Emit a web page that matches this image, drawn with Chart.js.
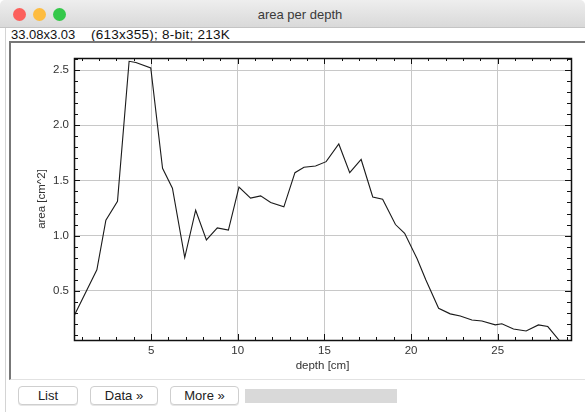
<!DOCTYPE html>
<html lang="en">
<head>
  <meta charset="UTF-8" />
  <title>area per depth</title>
  <script src="https://cdn.jsdelivr.net/npm/chart.js"></script>
  <style>
    body { margin: 0; width: 585px; height: 412px; overflow: hidden; background: #fff; font-family: "Liberation Sans", Arial, sans-serif; position: relative; }
    .titlebar { position: absolute; left: 0; top: 0; width: 585px; height: 27px; background: linear-gradient(#eeeeee, #d9d9d9); border-bottom: 1px solid #c4c4c4; border-radius: 5px 5px 0 0; }
    .dot { position: absolute; top: 8px; width: 13px; height: 13px; border-radius: 50%; }
    .wintitle { position: absolute; left: 0; width: 600px; top: 7px; text-align: center; font-size: 13px; color: #3a3a3a; }
    .info { position: absolute; top: 27px; font-size: 13px; color: #111; white-space: pre; }
    .outer { position: absolute; left: 5px; top: 28px; width: 1px; height: 384px; background: #d4d4d4; }
    .imgframe { position: absolute; left: 9px; top: 41px; width: 600px; height: 336px; border-left: 2px solid #777; border-top: 2px solid #777; border-bottom: 1px solid #e2e2e2; background: #fff; }
    #chart { position: absolute; left: 11px; top: 43px; }
    .btn { position: absolute; top: 386px; height: 17px; border: 1px solid #cfcfcf; border-radius: 4px; background: #fff; font-size: 13px; color: #222; text-align: center; line-height: 17px; box-shadow: 0 1px 0 #e6e6e6; }
    .bar { position: absolute; left: 245px; top: 389px; width: 152px; height: 14px; background: #d9d9d9; }
  </style>
</head>
<body>
<div class="titlebar">
  <div class="dot" style="left:13px; background:#fc605c;"></div>
  <div class="dot" style="left:33px; background:#fdbc40;"></div>
  <div class="dot" style="left:53px; background:#34c84a;"></div>
  <div class="wintitle">area per depth</div>
</div>
<div class="info" style="left:11px;">33.08x3.03</div>
<div class="info" style="left:91px; font-size:13.5px; letter-spacing:0.25px;">(613x355); 8-bit; 213K</div>
<div class="outer"></div>
<div class="imgframe"></div>
<canvas id="chart" width="574" height="334"></canvas>
<div class="btn" style="left:18px; width:58px;">List</div>
<div class="btn" style="left:90px; width:66px;">Data »</div>
<div class="btn" style="left:170px; width:67px;">More »</div>
<div class="bar"></div>

<script>
// depth [cm] and area [cm^2]
const depth = [0.58, 1.87, 2.39, 3.06, 3.73, 4.12, 4.98, 5.66, 6.23, 6.94, 7.57, 8.19, 8.82, 9.46,
  10.07, 10.74, 11.32, 11.9, 12.66, 13.3, 13.82, 14.49, 15.1, 15.83, 16.46, 17.12, 17.79, 18.36,
  19.1, 19.63, 20.35, 20.85, 21.59, 22.26, 22.84, 23.51, 24.09, 24.86, 25.24, 25.91, 26.64,
  27.35, 27.89, 28.6];
const area = [0.28, 0.69, 1.14, 1.31, 2.58, 2.57, 2.52, 1.61, 1.43, 0.80, 1.23, 0.96, 1.07, 1.05,
  1.44, 1.34, 1.36, 1.30, 1.26, 1.57, 1.62, 1.63, 1.67, 1.83, 1.57, 1.69, 1.35, 1.33,
  1.10, 1.02, 0.79, 0.60, 0.34, 0.29, 0.27, 0.235, 0.226, 0.19, 0.20, 0.153, 0.135,
  0.19, 0.175, 0.04];
const xTicks = [5, 10, 15, 20, 25];
const yTicks = [0.5, 1.0, 1.5, 2.0, 2.5];
const yTickLabels = ['0.5', '1.0', '1.5', '2.0', '2.5'];

const points = depth.map((d, i) => ({ x: d, y: area[i] }));

// black frame with inward minor/major ticks on all four sides
const frame = {
  id: 'frame',
  afterDatasetsDraw(chart) {
    const { ctx, chartArea: a, scales } = chart;
    const xs = scales.x, ys = scales.y;
    ctx.save();
    ctx.strokeStyle = '#111';
    ctx.lineWidth = 1;
    ctx.beginPath();
    for (let v = 1; v <= 29; v++) {
      const px = Math.round(xs.getPixelForValue(v)) + 0.5;
      if (px < a.left || px > a.right) continue;
      const len = v % 5 === 0 ? 6 : 3;
      ctx.moveTo(px, a.bottom); ctx.lineTo(px, a.bottom - len);
      ctx.moveTo(px, a.top); ctx.lineTo(px, a.top + len);
    }
    for (let k = 1; k <= 26; k++) {
      const py = Math.round(ys.getPixelForValue(k / 10)) + 0.5;
      if (py < a.top || py > a.bottom) continue;
      const len = k % 5 === 0 ? 6 : 4;
      ctx.moveTo(a.left, py); ctx.lineTo(a.left + len, py);
      ctx.moveTo(a.right, py); ctx.lineTo(a.right - len, py);
    }
    ctx.stroke();
    ctx.lineWidth = 1.5;
    ctx.strokeRect(Math.round(a.left) + 0.5, Math.round(a.top) + 0.5, Math.round(a.right - a.left), Math.round(a.bottom - a.top));
    ctx.restore();
  }
};

const tickFont = { family: '"Liberation Sans", Arial, sans-serif', size: 11.5 };

new Chart(document.getElementById('chart'), {
  type: 'line',
  data: {
    datasets: [{ data: points, borderColor: '#1a1a1a', borderWidth: 1.1, pointRadius: 0, fill: false, tension: 0 }]
  },
  options: {
    responsive: false,
    animation: false,
    devicePixelRatio: 1,
    layout: { padding: { top: 15, right: 14, left: 0, bottom: 0 } },
    plugins: { legend: { display: false }, tooltip: { enabled: false } },
    scales: {
      x: {
        type: 'linear', min: 0.55, max: 29.23,
        afterBuildTicks: s => { s.ticks = xTicks.map(v => ({ value: v })); },
        afterFit: s => { s.height = 37; },
        ticks: { color: '#333', font: tickFont, padding: 4, maxRotation: 0, autoSkip: false },
        grid: { color: '#c8c8c8', lineWidth: 1, drawTicks: false },
        border: { display: false },
        title: { display: true, text: 'depth [cm]', color: '#333', font: tickFont, padding: { top: 0, bottom: 4 } }
      },
      y: {
        type: 'linear', min: 0.053, max: 2.61,
        afterBuildTicks: s => { s.ticks = yTicks.map(v => ({ value: v })); },
        afterFit: s => { s.width = 63; },
        ticks: { color: '#333', font: tickFont, padding: 5, autoSkip: false,
          callback: (v) => yTickLabels[yTicks.indexOf(v)] },
        grid: { color: '#c8c8c8', lineWidth: 1, drawTicks: false },
        border: { display: false },
        title: { display: true, text: 'area [cm^2]', color: '#333', font: tickFont, padding: { top: 24, bottom: 0 } }
      }
    }
  },
  plugins: [frame]
});
</script>
</body>
</html>
